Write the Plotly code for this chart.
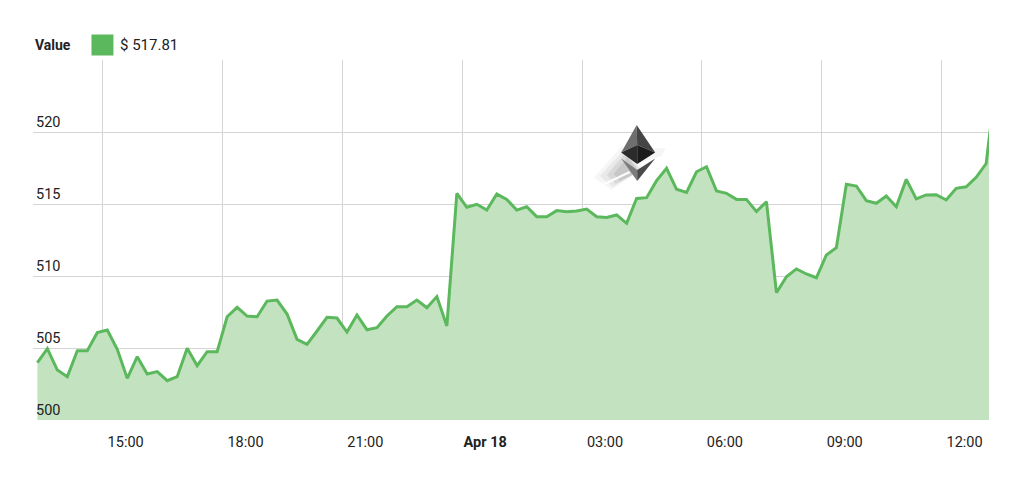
import pandas as pd
import plotly.graph_objects as go

# ---- data ----
start_time = "2018-04-17 13:22"
step = "15min"
values = [
    503.98, 504.95, 503.47, 503.01, 504.81, 504.81, 506.07, 506.25, 504.91, 502.89,
    504.40, 503.19, 503.36, 502.73, 503.01, 504.98, 503.77, 504.74, 504.74, 507.17,
    507.82, 507.22, 507.17, 508.26, 508.33, 507.36, 505.60, 505.25, 506.18, 507.13,
    507.08, 506.11, 507.29, 506.27, 506.41, 507.22, 507.87, 507.87, 508.33, 507.80,
    508.57, 506.53, 515.74, 514.77, 514.98, 514.58, 515.69, 515.32, 514.58, 514.81,
    514.12, 514.12, 514.54, 514.47, 514.51, 514.65, 514.12, 514.07, 514.24, 513.66,
    515.39, 515.44, 516.62, 517.48, 516.02, 515.81, 517.24, 517.59, 515.90, 515.74,
    515.32, 515.32, 514.47, 515.16, 508.84, 509.95, 510.49, 510.14, 509.88, 511.46,
    511.97, 516.37, 516.25, 515.23, 515.05, 515.56, 514.81, 516.71, 515.35, 515.63,
    515.65, 515.28, 516.09, 516.20, 516.85, 517.81, 523.60,
]
legend_name = "Value"
legend_value = 517.81

x_tick_vals = ["2018-04-17 15:00", "2018-04-17 18:00", "2018-04-17 21:00", "2018-04-18 00:00",
               "2018-04-18 03:00", "2018-04-18 06:00", "2018-04-18 09:00", "2018-04-18 12:00"]
x_tick_text = ["15:00", "18:00", "21:00", "<b>Apr 18</b>", "03:00", "06:00", "09:00", "12:00"]
y_tick_vals = [500, 505, 510, 515, 520, 525]
y_tick_text = ["500", "505", "510", "515", "520", ""]

times = pd.date_range(start_time, periods=len(values), freq=step)

# ---- layout geometry (screen pixels; page body has an 8px margin) ----
OFF = 8
W, H = 1024 - 2 * OFF, 481 - 2 * OFF
L, R, T, B = 33, 989.5, 60, 420          # plot area on screen


def px(x):
    return (x - L) / (R - L)


def py(y):
    return (B - y) / (B - T)


def path(points):
    return "M " + " L ".join(f"{px(a):.5f},{py(b):.5f}" for a, b in points) + " Z"


LINE = "#5cb85c"
FILL = "#c3e3c0"
FONT = "Roboto"
TEXT = "#222222"

fig = go.Figure()
fig.add_trace(go.Scatter(
    x=times, y=values, mode="lines",
    line=dict(color=LINE, width=3),
    fill="tozeroy", fillcolor=FILL,
    showlegend=False, hoverinfo="x+y",
))

shapes = []
# legend swatch
shapes.append(dict(type="rect", xref="paper", yref="paper",
                   x0=px(91.5), x1=px(113.5), y0=py(55.5), y1=py(34.5),
                   fillcolor=LINE, line=dict(width=0), layer="above"))

# ethereum icon: soft motion shadow
shadow_layers = [
    ([(594, 178), (622, 146), (644, 168), (612, 190)], "rgba(0,0,0,0.035)"),
    ([(600, 176), (624, 150), (642, 170), (613, 187)], "rgba(0,0,0,0.05)"),
    ([(607, 175), (626, 153), (640, 171), (616, 184)], "rgba(0,0,0,0.07)"),
    ([(614, 174), (628, 157), (639, 172), (620, 181)], "rgba(0,0,0,0.08)"),
    ([(640, 149), (666, 148), (662, 156), (640, 163)], "rgba(0,0,0,0.04)"),
]
for pts, col in shadow_layers:
    shapes.append(dict(type="path", xref="paper", yref="paper", path=path(pts),
                       fillcolor=col, line=dict(width=0), layer="above"))
shapes.append(dict(type="line", xref="paper", yref="paper",
                   x0=px(603), y0=py(185), x1=px(630), y1=py(172),
                   line=dict(color="rgba(255,255,255,0.95)", width=2), layer="above"))

top, left, right, mid, bot = (637, 125), (621.5, 152.5), (655.5, 152.5), (637.5, 145), (637.5, 164)
cl, cr, ct, cb = (621.5, 158.5), (655.5, 158.5), (637.5, 170), (637.5, 181)
facets = [
    ([top, left, mid], "#6e6e6e"),
    ([top, right, mid], "#454545"),
    ([left, mid, bot], "#2b2b2b"),
    ([right, mid, bot], "#1c1c1c"),
    ([cl, ct, cb], "#7c7c7c"),
    ([cr, ct, cb], "#4a4a4a"),
]
for pts, col in facets:
    shapes.append(dict(type="path", xref="paper", yref="paper", path=path(pts),
                       fillcolor=col, line=dict(width=0), layer="above"))

annotations = [
    dict(xref="paper", yref="paper", x=px(33), y=py(45.5), xanchor="left", yanchor="middle",
         text=f"<b>{legend_name}</b>", showarrow=False,
         font=dict(family=FONT, size=14, color=TEXT)),
    dict(xref="paper", yref="paper", x=px(118), y=py(45.5), xanchor="left", yanchor="middle",
         text=f"$ {legend_value:.2f}", showarrow=False,
         font=dict(family=FONT, size=15, color=TEXT)),
]

fig.update_layout(
    width=W, height=H,
    margin=dict(l=L - OFF, r=W - (R - OFF), t=T - OFF, b=H - (B - OFF), pad=0),
    paper_bgcolor="white", plot_bgcolor="white",
    font=dict(family=FONT, size=14, color=TEXT),
    shapes=shapes, annotations=annotations,
    showlegend=False,
)
fig.update_xaxes(
    type="date",
    range=["2018-04-17 13:15:25", "2018-04-18 13:11:15"],
    tickmode="array", tickvals=x_tick_vals, ticktext=x_tick_text,
    showgrid=True, gridcolor="#d4d4d4", gridwidth=1,
    zeroline=False, showline=False, ticks="",
    ticklabelshift=23, ticklabelstandoff=11,
    tickfont=dict(family=FONT, size=14.5, color=TEXT),
)
fig.update_yaxes(
    range=[500, 525],
    tickmode="array", tickvals=y_tick_vals, ticktext=y_tick_text,
    ticklabelposition="inside top",
    showgrid=True, gridcolor="#d4d4d4", gridwidth=1,
    zeroline=False, showline=False, ticks="",
    tickfont=dict(family=FONT, size=14.5, color=TEXT),
)

fig.write_html("out.html")
